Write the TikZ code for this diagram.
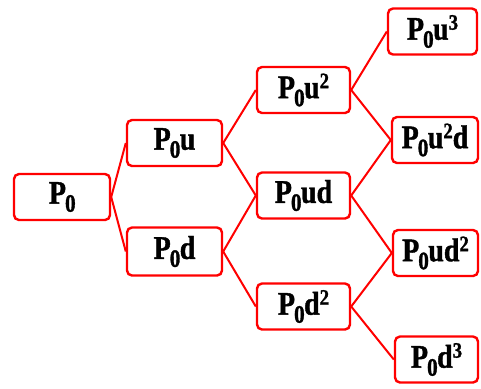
\documentclass[tikz,border=0pt]{standalone}
\usepackage{fontspec}
\setmainfont[FakeStretch=0.85,BoldFeatures={FakeBold=1.2}]{Liberation Serif}
\newcommand\mysub[1]{\raisebox{-4pt}{\fontsize{12.5}{12.5}\selectfont #1}}
\newcommand\mysup[1]{\raisebox{5pt}{\fontsize{11}{11}\selectfont #1}}
\newcommand\Pz{P\kern-0.5pt\mysub{0}\kern-0.3pt}
\begin{document}
\begin{tikzpicture}[x=0.5pt,y=-0.5pt,
  bx/.style={draw=red, line width=1.2pt, rounded corners=2.5pt, rectangle,
    inner sep=0pt, minimum height=23pt, font=\fontsize{16.5}{16.5}\selectfont\bfseries},
  ln/.style={red, line width=1pt}]
\useasboundingbox (0,0) rectangle (481,388);
\node[bx, minimum width=48pt] (p0) at (62,197) {\Pz};
\node[bx, minimum width=47.5pt] (pu) at (174.5,143) {\Pz u};
\node[bx, minimum width=47.5pt, minimum height=24pt] (pd) at (174.5,251.5) {\Pz d};
\node[bx, minimum width=46.5pt] (puu) at (303.5,90) {\Pz u\mysup{2}};
\node[bx, minimum width=46.5pt] (pud) at (303.5,195.5) {\Pz ud};
\node[bx, minimum width=46.5pt] (pdd) at (303.5,306.5) {\Pz d\mysup{2}};
\node[bx, minimum width=44.5pt] (puuu) at (432.5,31.5) {\Pz u\mysup{3}};
\node[bx, minimum width=43pt] (puud) at (435,140) {\Pz u\mysup{2}d};
\node[bx, minimum width=42.5pt] (pudd) at (435.5,253) {\Pz ud\mysup{2}};
\node[bx, minimum width=41.5pt] (pddd) at (436.5,359.5) {\Pz d\mysup{3}};
\draw[ln] (p0.east) -- (pu.west);
\draw[ln] (p0.east) -- (pd.west);
\draw[ln] (pu.east) -- (puu.west);
\draw[ln] (pu.east) -- (pud.west);
\draw[ln] (pd.east) -- (pud.west);
\draw[ln] (pd.east) -- (pdd.west);
\draw[ln] (puu.east) -- (puuu.west);
\draw[ln] (puu.east) -- (puud.west);
\draw[ln] (pud.east) -- (puud.west);
\draw[ln] (pud.east) -- (pudd.west);
\draw[ln] (pdd.east) -- (pudd.west);
\draw[ln] (pdd.east) -- (pddd.west);
\end{tikzpicture}
\end{document}
